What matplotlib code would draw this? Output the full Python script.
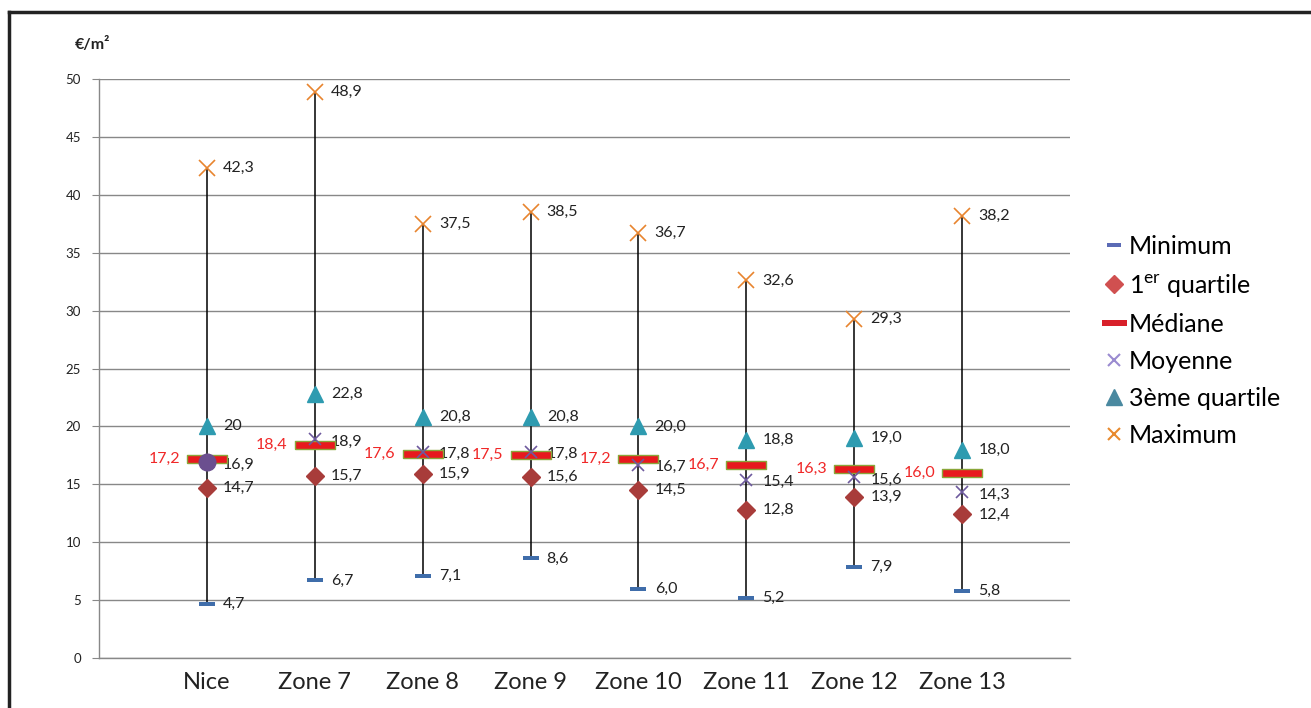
import matplotlib
matplotlib.use("Agg")
import matplotlib.pyplot as plt
from matplotlib.lines import Line2D
import numpy as np

plt.rcParams['font.family'] = ['Lato', 'DejaVu Sans']
plt.rcParams['mathtext.fontset'] = 'custom'
plt.rcParams['mathtext.rm'] = 'Lato'

zones = ["Nice", "Zone 7", "Zone 8", "Zone 9", "Zone 10", "Zone 11", "Zone 12", "Zone 13"]
minimum = [4.7, 6.7, 7.1, 8.6, 6.0, 5.2, 7.9, 5.8]
q1 = [14.7, 15.7, 15.9, 15.6, 14.5, 12.8, 13.9, 12.4]
mediane = [17.2, 18.4, 17.6, 17.5, 17.2, 16.7, 16.3, 16.0]
moyenne = [16.9, 18.9, 17.8, 17.8, 16.7, 15.4, 15.6, 14.3]
q3 = [20.0, 22.8, 20.8, 20.8, 20.0, 18.8, 19.0, 18.0]
maximum = [42.3, 48.9, 37.5, 38.5, 36.7, 32.6, 29.3, 38.2]
q3_labels = ["20", "22,8", "20,8", "20,8", "20,0", "18,8", "19,0", "18,0"]

x = np.arange(len(zones))

def fr(v):
    return f"{v:.1f}".replace(".", ",")

# rectangle markers
bar_m = [(-1, -0.22), (1, -0.22), (1, 0.22), (-1, 0.22), (-1, -0.22)]
dash_m = [(-1, -0.25), (1, -0.25), (1, 0.25), (-1, 0.25), (-1, -0.25)]

fig = plt.figure(figsize=(13.11, 7.08), dpi=100)
ax = fig.add_axes([99/1311, 1-658/708, (1070-99)/1311, (658-79)/708])

ax.vlines(x, minimum, maximum, color="black", lw=1.1, zorder=2)
ax.plot(x, minimum, ls="none", marker=dash_m, ms=12, color="#3F6DAA", mec="#3F6DAA", mew=0, zorder=3)
ax.plot(x, q1, ls="none", marker="D", ms=9, color="#A83C3A", zorder=3)
ax.plot(x, mediane, ls="none", marker=bar_m, ms=29, color="#E8191E", mec="#8AA63A", mew=1, zorder=4)
ax.plot(x[1:], moyenne[1:], ls="none", marker="x", ms=9, color="#6E5A9E", mew=1.2, zorder=5)
ax.plot(x[:1], moyenne[:1], ls="none", marker="o", ms=12, color="#6B4F8F", zorder=5)
ax.plot(x, q3, ls="none", marker="^", ms=11, color="#2E9BB0", zorder=3)
ax.plot(x, maximum, ls="none", marker="x", ms=12, color="#E8842E", mew=1.2, zorder=3)

lab = dict(fontsize=11.5, color="#222222", va="center", ha="left")
for i in x:
    ax.text(i + 0.15, minimum[i], fr(minimum[i]), **lab)
    ax.text(i + 0.15, q1[i], fr(q1[i]), **lab)
    ax.text(i + 0.15, moyenne[i] - 0.2, fr(moyenne[i]), **lab)
    ax.text(i + 0.15, q3[i], q3_labels[i], **lab)
    ax.text(i + 0.15, maximum[i], fr(maximum[i]), **lab)
    ax.text(i - 0.25, mediane[i], fr(mediane[i]), fontsize=11.5, color="#F02828", va="center", ha="right")

ax.set_xlim(-1.0, 8.0)
ax.set_ylim(0, 50)
ax.set_yticks(np.arange(0, 51, 5))
ax.set_xticks(x)
ax.set_xticklabels(zones, fontsize=17, color="#222222")
ax.tick_params(axis="x", length=0, pad=10)
ax.tick_params(axis="y", length=5, color="#888888", labelsize=9.5, labelcolor="#222222", pad=8)
ax.grid(axis="y", color="#888888", lw=1)
ax.set_axisbelow(True)
for s in ["top", "right"]:
    ax.spines[s].set_visible(False)
for s in ["left", "bottom"]:
    ax.spines[s].set_color("#888888")
    ax.spines[s].set_linewidth(1)

fig.text(75/1311, 1-45/708, "€/m²", fontsize=11.5, fontweight="bold", va="center", ha="left", color="#222222")

handles = [
    Line2D([], [], ls="none", marker=dash_m, ms=10, color="#5B6BB5", mew=0),
    Line2D([], [], ls="none", marker="D", ms=9, color="#D05050"),
    Line2D([], [], ls="none", marker=bar_m, ms=18, color="#D8202A", mew=0),
    Line2D([], [], ls="none", marker="x", ms=9, color="#9A8BD0", mew=1.5),
    Line2D([], [], ls="none", marker="^", ms=11, color="#4A89A0"),
    Line2D([], [], ls="none", marker="x", ms=9, color="#E88A2E", mew=1.5),
]
labels = ["Minimum", "1$^{\\mathrm{er}}$ quartile", "Médiane", "Moyenne", "3ème quartile", "Maximum"]
fig.legend(handles, labels, loc="upper left", bbox_to_anchor=(1090/1311, 1-222/708),
           frameon=False, fontsize=18, handlelength=0.9, handletextpad=0.15,
           labelspacing=0.56, borderpad=0)

# outer frame (cut off right and bottom)
fig.add_artist(Line2D([9/1311, 9/1311], [0, 1-12/708], color="#222222", lw=2.5))
fig.add_artist(Line2D([9/1311, 1], [1-12/708, 1-12/708], color="#222222", lw=2.5))

fig.savefig("out.png", dpi=100)
